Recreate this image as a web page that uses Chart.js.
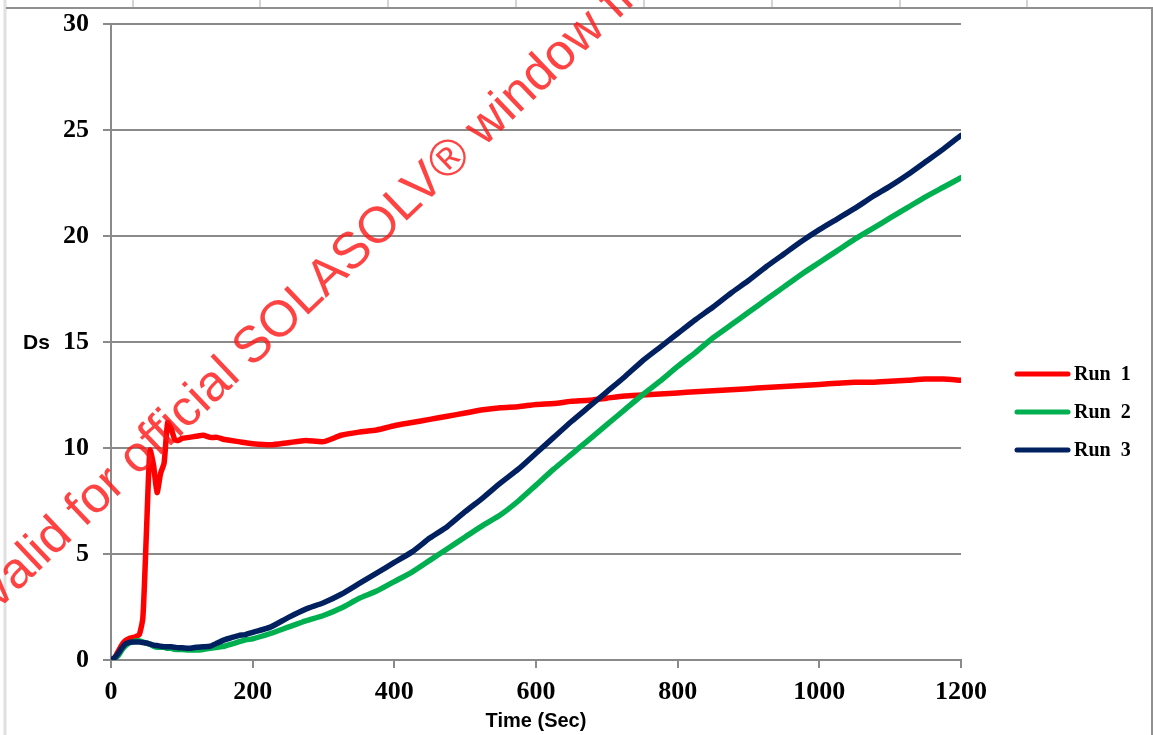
<!DOCTYPE html>
<html>
<head>
<meta charset="utf-8">
<script src="https://cdn.jsdelivr.net/npm/chart.js@4.4.1/dist/chart.umd.min.js"></script>
<style>
  html, body { margin: 0; padding: 0; background: #fff; }
  #wrap { width: 1153px; height: 735px; }
</style>
</head>
<body>
<div id="wrap"><canvas id="c" width="1153" height="735"></canvas></div>
<script>
// time in seconds
const times = [0, 5, 10, 15, 20, 25, 30, 35, 40, 45, 50, 55, 60, 65, 70, 75, 80, 85, 90, 95, 100,
  110, 120, 130, 140, 150, 160, 170, 180, 190, 200,
  225, 250, 275, 300, 325, 350, 375, 400, 425, 450, 475, 500, 525, 550, 575, 600, 625, 650, 675, 700,
  725, 750, 775, 800, 825, 850, 875, 900, 925, 950, 975, 1000, 1025, 1050, 1075, 1100, 1125, 1150, 1175, 1200];

const run1 = [0, 0.1, 0.4, 0.7, 0.9, 1.0, 1.05, 1.1, 1.2, 2.0, 6.0, 9.9, 9.2, 7.9, 8.8, 9.3, 11.2, 10.9, 10.4, 10.35, 10.45,
  10.5, 10.55, 10.6, 10.5, 10.5, 10.4, 10.35, 10.3, 10.25, 10.2,
  10.15, 10.25, 10.35, 10.3, 10.6, 10.75, 10.85, 11.05, 11.2, 11.35, 11.5, 11.65, 11.8, 11.9, 11.95, 12.05, 12.1, 12.2, 12.25, 12.35,
  12.45, 12.5, 12.55, 12.6, 12.65, 12.7, 12.75, 12.8, 12.85, 12.9, 12.95, 13.0, 13.05, 13.1, 13.1, 13.15, 13.2, 13.25, 13.25, 13.2];

const run2 = [0, 0.05, 0.2, 0.45, 0.65, 0.8, 0.85, 0.9, 0.9, 0.85, 0.8, 0.75, 0.65, 0.6, 0.6, 0.6, 0.55, 0.55, 0.5, 0.5, 0.5,
  0.47, 0.47, 0.5, 0.55, 0.6, 0.65, 0.75, 0.85, 0.95, 1.0,
  1.25, 1.55, 1.85, 2.1, 2.45, 2.9, 3.25, 3.7, 4.15, 4.7, 5.25, 5.8, 6.35, 6.85, 7.5, 8.25, 9.0, 9.7, 10.4, 11.1,
  11.8, 12.5, 13.15, 13.85, 14.5, 15.2, 15.8, 16.4, 17.0, 17.6, 18.2, 18.75, 19.3, 19.85, 20.35, 20.85, 21.35, 21.85, 22.3, 22.75];

const run3 = [0, 0.1, 0.3, 0.55, 0.75, 0.82, 0.85, 0.85, 0.85, 0.82, 0.8, 0.75, 0.7, 0.68, 0.65, 0.63, 0.62, 0.62, 0.6, 0.58, 0.58,
  0.55, 0.6, 0.62, 0.65, 0.8, 0.95, 1.05, 1.15, 1.2, 1.3,
  1.55, 2.0, 2.4, 2.7, 3.1, 3.6, 4.1, 4.6, 5.1, 5.75, 6.3, 7.0, 7.65, 8.35, 9.0, 9.75, 10.5, 11.25, 11.95, 12.65,
  13.35, 14.1, 14.75, 15.4, 16.05, 16.65, 17.3, 17.9, 18.55, 19.15, 19.75, 20.3, 20.8, 21.3, 21.85, 22.35, 22.9, 23.5, 24.1, 24.75];

const seriesNames = ['Run 1', 'Run 2', 'Run 3'];
const seriesColors = ['#ff0000', '#00b050', '#002060'];
const seriesValues = [run1, run2, run3];

const GRID = '#8a8a8a';
const SERIF = "'Liberation Serif', 'Times New Roman', serif";
const SANS = "'Liberation Sans', Arial, sans-serif";

// spreadsheet cell borders + chart frame behind everything
const sheetFrame = {
  id: 'sheetFrame',
  beforeDraw(chart) {
    const ctx = chart.ctx;
    ctx.save();
    ctx.fillStyle = '#fff';
    ctx.fillRect(0, 0, chart.width, chart.height);
    ctx.strokeStyle = '#d4d4d4';
    ctx.lineWidth = 2;
    [133, 260, 388, 516, 644, 772, 900, 1027].forEach((x) => {
      ctx.beginPath(); ctx.moveTo(x, 0); ctx.lineTo(x, 7); ctx.stroke();
    });
    ctx.strokeStyle = '#e0e0e0';
    ctx.lineWidth = 3;
    ctx.beginPath(); ctx.moveTo(5, 0); ctx.lineTo(5, chart.height); ctx.stroke();
    ctx.strokeStyle = '#909090';
    ctx.lineWidth = 2;
    ctx.beginPath(); ctx.moveTo(6, 8); ctx.lineTo(1152, 8); ctx.lineTo(1152, chart.height); ctx.stroke();
    ctx.restore();
  },
};

// legend, horizontal "Ds" title and the watermark
const overlay = {
  id: 'overlay',
  afterDraw(chart) {
    const ctx = chart.ctx;
    ctx.save();
    ctx.fillStyle = '#000';
    ctx.font = 'bold 21px ' + SANS;
    ctx.textAlign = 'left';
    ctx.textBaseline = 'middle';
    ctx.fillText('Ds', 23, 343);

    chart.data.datasets.forEach((ds, i) => {
      const y = 374 + i * 38;
      ctx.strokeStyle = ds.borderColor;
      ctx.lineWidth = 5;
      ctx.lineCap = 'round';
      ctx.beginPath(); ctx.moveTo(1017, y); ctx.lineTo(1068, y); ctx.stroke();
      ctx.fillStyle = '#000';
      ctx.font = 'bold 20px ' + SERIF;
      ctx.fillText(ds.label.replace(' ', '  '), 1074, y + 1);
    });

    ctx.translate(-2, 610);
    ctx.rotate(-43.6 * Math.PI / 180);
    ctx.font = '51px ' + SANS;
    ctx.fillStyle = 'rgba(255, 20, 20, 0.8)';
    ctx.textBaseline = 'alphabetic';
    ctx.textAlign = 'right';
    ctx.fillText('Not ', 0, 0);
    ctx.textAlign = 'left';
    ctx.fillText('valid for official SOLASOLV® window film', 0, 0);
    ctx.restore();
  },
};

new Chart(document.getElementById('c'), {
  type: 'line',
  data: {
    datasets: seriesNames.map((name, i) => ({
      label: name,
      data: times.map((t, j) => ({ x: t, y: seriesValues[i][j] })),
      borderColor: seriesColors[i],
      backgroundColor: seriesColors[i],
      borderWidth: 5.5,
      pointRadius: 0,
      tension: 0.2,
      borderJoinStyle: 'round',
      borderCapStyle: 'round',
      order: 2 - i,
    })),
  },
  options: {
    responsive: false,
    animation: false,
    layout: { padding: { left: 0, right: 192, top: 24, bottom: 0 } },
    plugins: { legend: { display: false }, tooltip: { enabled: false } },
    scales: {
      x: {
        type: 'linear',
        min: 0,
        max: 1200,
        afterFit(s) { s.height = 75; },
        ticks: {
          stepSize: 200, padding: 9, color: '#000',
          font: { family: SERIF, size: 26, weight: 'bold' },
          callback: (v) => String(v),
        },
        grid: { drawOnChartArea: false, drawTicks: true, tickLength: 8, color: GRID, lineWidth: 2 },
        border: { color: GRID, width: 2 },
        title: {
          display: true,
          text: 'Time (Sec)',
          color: '#000',
          font: { family: SANS, size: 20, weight: 'bold' },
          padding: { top: 0, bottom: 2 },
        },
      },
      y: {
        min: 0,
        max: 30,
        afterFit(s) { s.width = 111; s.paddingTop = 0; },
        ticks: { stepSize: 5, padding: 14, color: '#000', font: { family: SERIF, size: 26, weight: 'bold' } },
        grid: { drawTicks: true, tickLength: 8, color: GRID, lineWidth: 2 },
        border: { color: GRID, width: 2 },
      },
    },
  },
  plugins: [sheetFrame, overlay],
});
</script>
</body>
</html>
